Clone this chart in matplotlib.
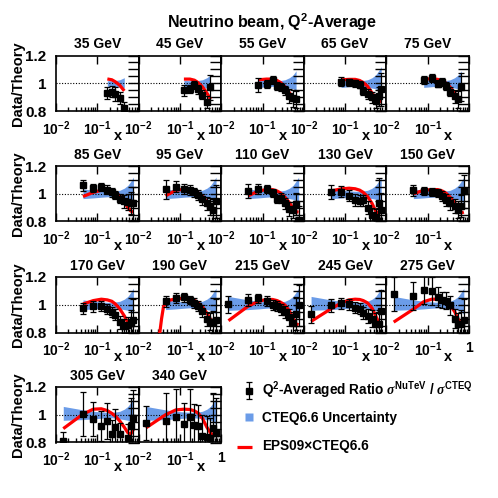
import numpy as np
import matplotlib
matplotlib.use('Agg')
from matplotlib import pyplot as plt
from matplotlib.ticker import FixedLocator, NullFormatter

plt.rcParams['font.family'] = ['Liberation Sans', 'DejaVu Sans']
plt.rcParams['font.weight'] = 'bold'
plt.rcParams['mathtext.fontset'] = 'custom'
plt.rcParams['mathtext.rm'] = 'Liberation Sans:bold'
plt.rcParams['mathtext.bf'] = 'Liberation Sans:bold'
plt.rcParams['mathtext.it'] = 'Liberation Serif:italic'
plt.rcParams['mathtext.default'] = 'bf'

energies = ['35 GeV', '45 GeV', '55 GeV', '65 GeV', '75 GeV',
            '85 GeV', '95 GeV', '110 GeV', '130 GeV', '150 GeV',
            '170 GeV', '190 GeV', '215 GeV', '245 GeV', '275 GeV',
            '305 GeV', '340 GeV']

x_bins = [0.015, 0.045, 0.08, 0.125, 0.175, 0.225, 0.275, 0.35, 0.45, 0.55, 0.65, 0.75]
# CTEQ6.6 uncertainty band (above / below 1) at each x bin
band_up = [0.06, 0.035, 0.025, 0.02, 0.018, 0.018, 0.02, 0.025, 0.04, 0.06, 0.09, 0.12]
band_dn = [0.04, 0.035, 0.03, 0.025, 0.022, 0.022, 0.025, 0.03, 0.035, 0.04, 0.05, 0.07]

# bins with a measured point, per panel
data_bins = [
    [4, 5, 6, 7, 8],
    [3, 4, 5, 6, 7, 8, 9],
    [2, 3, 4, 5, 6, 7, 8, 9, 10],
    [2, 3, 4, 5, 6, 7, 8, 9, 10, 11],
    [2, 3, 4, 5, 6, 7, 8, 9, 10],
    [1, 2, 3, 4, 5, 6, 7, 8, 9, 10, 11],
    [1, 2, 3, 4, 5, 6, 7, 8, 9, 10, 11],
    [1, 2, 3, 4, 5, 6, 7, 8, 9, 10, 11],
    [1, 2, 3, 4, 5, 6, 7, 8, 9, 10, 11],
    [1, 2, 3, 4, 5, 6, 7, 8, 9, 10, 11],
    [1, 2, 3, 4, 5, 6, 7, 8, 9, 10, 11],
    [1, 2, 3, 4, 5, 6, 7, 8, 9, 10, 11],
    [0, 1, 2, 3, 4, 5, 6, 7, 8, 9, 10, 11],
    [0, 1, 2, 3, 4, 5, 6, 7, 8, 9, 10, 11],
    [0, 1, 2, 3, 4, 5, 6, 7, 8, 9, 10, 11],
    [0, 1, 2, 3, 4, 5, 6, 7, 9, 10, 11],
    [0, 1, 2, 3, 4, 5, 6, 7, 8, 9, 10, 11],
]

ratio = [
    [0.93, 0.94, 0.92, 0.895, 0.825],
    [0.949, 0.958, 0.988, 0.955, 0.918, 0.865, 0.971],
    [0.987, 0.995, 1.023, 0.982, 0.971, 0.948, 0.905, 0.892, 0.884],
    [1.012, 1.008, 1.0, 0.99, 0.945, 0.925, 0.9, 0.87, 0.905, 0.955],
    [1.025, 1.04, 0.998, 1.01, 0.978, 0.94, 0.905, 0.885, 0.975],
    [1.062, 1.042, 1.048, 1.03, 1.01, 0.99, 0.965, 0.945, 0.94, 0.935, 0.93],
    [1.032, 1.052, 1.035, 1.028, 1.01, 0.99, 0.96, 0.93, 0.91, 0.885, 0.945],
    [1.022, 1.036, 1.036, 1.003, 0.962, 0.968, 0.932, 0.888, 0.882, 0.926, 0.81],
    [1.01, 1.015, 0.985, 0.955, 0.95, 0.953, 0.9, 0.85, 0.83, 0.935, 0.885],
    [1.024, 1.022, 1.015, 1.005, 0.982, 0.955, 0.93, 0.91, 0.885, 0.912, 1.018],
    [0.975, 0.99, 0.99, 0.97, 0.948, 0.928, 0.873, 0.848, 0.853, 0.865, 0.89],
    [1.025, 1.05, 1.053, 1.035, 1.012, 0.99, 0.955, 0.9, 0.878, 0.873, 0.888],
    [1.004, 1.034, 1.046, 1.026, 0.998, 0.99, 0.966, 0.948, 0.91, 0.865, 0.935, 0.995],
    [0.93, 0.995, 1.012, 1.003, 0.977, 0.97, 0.94, 0.922, 0.9, 0.862, 0.862, 0.955],
    [1.077, 1.062, 1.108, 1.097, 1.055, 1.035, 1.03, 0.995, 0.9, 0.86, 0.86, 0.89],
    [0.813, 1.005, 0.97, 0.918, 0.953, 0.86, 0.91, 0.862, 0.83, 0.922, 0.978],
    [0.94, 0.955, 0.985, 0.932, 0.984, 0.928, 0.922, 0.848, 0.838, 0.83, 0.908, 0.87],
]

ratio_err = [
    [0.04, 0.04, 0.05, 0.045, 0.04],
    [0.04, 0.03, 0.03, 0.035, 0.035, 0.04, 0.09],
    [0.05, 0.03, 0.03, 0.03, 0.03, 0.035, 0.05, 0.06, 0.06],
    [0.03, 0.025, 0.025, 0.025, 0.03, 0.035, 0.04, 0.05, 0.07, 0.12],
    [0.03, 0.03, 0.025, 0.03, 0.03, 0.035, 0.045, 0.06, 0.1],
    [0.04, 0.03, 0.03, 0.03, 0.03, 0.03, 0.035, 0.045, 0.06, 0.08, 0.12],
    [0.07, 0.04, 0.035, 0.035, 0.035, 0.035, 0.04, 0.045, 0.06, 0.08, 0.12],
    [0.05, 0.035, 0.03, 0.03, 0.03, 0.035, 0.04, 0.05, 0.06, 0.08, 0.1],
    [0.05, 0.04, 0.04, 0.04, 0.04, 0.04, 0.045, 0.05, 0.06, 0.18, 0.12],
    [0.04, 0.03, 0.03, 0.03, 0.035, 0.04, 0.045, 0.05, 0.06, 0.08, 0.12],
    [0.04, 0.04, 0.035, 0.035, 0.035, 0.04, 0.045, 0.05, 0.06, 0.1, 0.15],
    [0.04, 0.035, 0.03, 0.03, 0.035, 0.035, 0.04, 0.05, 0.06, 0.08, 0.15],
    [0.06, 0.04, 0.035, 0.035, 0.035, 0.035, 0.04, 0.045, 0.06, 0.08, 0.12, 0.15],
    [0.06, 0.05, 0.04, 0.04, 0.04, 0.04, 0.045, 0.05, 0.06, 0.08, 0.1, 0.15],
    [0.12, 0.1, 0.1, 0.1, 0.07, 0.06, 0.06, 0.07, 0.07, 0.08, 0.1, 0.15],
    [0.065, 0.16, 0.12, 0.11, 0.13, 0.1, 0.13, 0.08, 0.1, 0.2, 0.2],
    [0.12, 0.2, 0.2, 0.15, 0.2, 0.15, 0.15, 0.15, 0.15, 0.15, 0.25, 0.25],
]

# EPS09 x CTEQ6.6 curve, read at the x bins (190 GeV has extra low-x points)
eps_x = [
    x_bins[4:9], x_bins[3:10], x_bins[2:11], x_bins[2:12], x_bins[2:11],
    x_bins[1:12], x_bins[1:12], x_bins[1:12], x_bins[1:12], x_bins[1:12],
    x_bins[1:11],
    [0.032, 0.036, 0.04, 0.045, 0.055] + x_bins[2:12],
    x_bins, x_bins, x_bins, x_bins, x_bins,
]
eps_y = [
    [1.031, 1.025, 1.01, 0.985, 0.945],
    [1.03, 1.03, 1.022, 1.005, 0.975, 0.93, 0.885],
    [1.025, 1.03, 1.03, 1.02, 1.005, 0.975, 0.93, 0.895, 0.875],
    [1.025, 1.028, 1.028, 1.02, 1.005, 0.978, 0.93, 0.885, 0.862, 0.875],
    [1.03, 1.032, 1.028, 1.018, 1.002, 0.972, 0.93, 0.895, 0.88],
    [0.98, 1.01, 1.025, 1.03, 1.022, 1.01, 0.985, 0.94, 0.9, 0.875, 0.868],
    [0.985, 1.025, 1.032, 1.03, 1.022, 1.008, 0.983, 0.945, 0.905, 0.88, 0.872],
    [0.985, 1.02, 1.03, 1.03, 1.02, 1.005, 0.975, 0.935, 0.895, 0.87, 0.868],
    [1.02, 1.035, 1.04, 1.036, 1.026, 1.01, 0.98, 0.93, 0.875, 0.855, 0.91],
    [1.0, 1.025, 1.03, 1.03, 1.02, 1.005, 0.975, 0.935, 0.895, 0.862, 0.868],
    [1.005, 1.03, 1.04, 1.035, 1.025, 1.005, 0.97, 0.92, 0.87, 0.83],
    [0.78, 0.9, 0.985, 1.015, 1.032, 1.043, 1.047, 1.043, 1.032, 1.015, 0.985, 0.94, 0.895, 0.865, 0.86],
    [0.885, 0.99, 1.025, 1.038, 1.038, 1.03, 1.018, 0.998, 0.955, 0.9, 0.862, 0.855],
    [0.88, 0.97, 1.012, 1.035, 1.04, 1.038, 1.03, 1.013, 0.975, 0.92, 0.872, 0.86],
    [0.875, 0.968, 1.022, 1.04, 1.04, 1.032, 1.02, 0.998, 0.95, 0.895, 0.855, 0.845],
    [0.9, 1.005, 1.04, 1.043, 1.03, 1.01, 0.99, 0.955, 0.91, 0.87, 0.862, 0.895],
    [0.905, 1.0, 1.035, 1.04, 1.038, 1.028, 1.012, 0.975, 0.91, 0.87, 0.85, 0.87],
]

W = 498.0
fig = plt.figure(figsize=(4.98, 4.98), dpi=100)

left0 = 56.0
pw = 82.6
ph = 55.5
row_top = [55.5, 166.0, 277.0, 387.0]
band_col = '#6b9ce8'


def px_axes(x, y, w, h):
    return fig.add_axes([x / W, 1 - (y + h) / W, w / W, h / W])


fig.text(272 / W, 1 - 22 / W, 'Neutrino beam, Q$^2$-Average', ha='center', va='center',
         fontsize=11.5, weight='bold')

for i in range(len(energies)):
    row = i // 5
    col = i % 5
    x0 = left0 + col * pw
    y0 = row_top[row]
    ax = px_axes(x0, y0, pw, ph)

    xs = [x_bins[k] for k in data_bins[i]]
    k0 = data_bins[i][0]
    k1 = data_bins[i][-1]
    bx = x_bins[k0:k1 + 1]
    bup = [1 + v for v in band_up[k0:k1 + 1]]
    bdn = [1 - v for v in band_dn[k0:k1 + 1]]
    ax.fill_between(bx, bdn, bup, color=band_col, lw=0, zorder=1)
    ax.axhline(1.0, color='k', ls=(0, (1, 1.5)), lw=0.8, zorder=2)
    ax.plot(eps_x[i], eps_y[i], color='#ff0000', lw=2.3, zorder=3, solid_capstyle='butt')
    ax.errorbar(xs, ratio[i], yerr=ratio_err[i], fmt='s', color='k', ms=3.8,
                elinewidth=0.9, capsize=2, capthick=0.9, zorder=4)

    ax.set_xscale('log')
    ax.set_xlim(0.01, 1)
    ax.set_ylim(0.8, 1.2)
    for s in ax.spines.values():
        s.set_linewidth(1.2)

    last_in_row = (i == 14 or i == 16)
    ax.xaxis.set_major_locator(FixedLocator([0.01, 0.1, 1]))
    ax.xaxis.set_minor_locator(FixedLocator([0.02, 0.03, 0.04, 0.05, 0.06, 0.07, 0.08, 0.09,
                                             0.2, 0.3, 0.4, 0.5, 0.6, 0.7, 0.8, 0.9]))
    ax.xaxis.set_minor_formatter(NullFormatter())
    ax.set_xticklabels([r'10$^{-2}$', r'10$^{-1}$', '1' if last_in_row else ''])
    ax.tick_params(axis='x', which='major', direction='in', length=6, width=1,
                   top=True, bottom=True, labelsize=10, pad=6)
    ax.tick_params(axis='x', which='minor', direction='in', length=3, width=1,
                   top=False, bottom=True)

    ax.yaxis.set_major_locator(FixedLocator([0.8, 1.0, 1.2]))
    ax.yaxis.set_minor_locator(FixedLocator([0.85, 0.9, 0.95, 1.05, 1.1, 1.15]))
    ax.set_yticklabels(['0.8', '1', '1.2'])
    ax.tick_params(axis='y', which='both', direction='in', length=8, width=1,
                   left=False, right=True, labelleft=(col == 0), labelright=False,
                   labelsize=11, pad=7)

    ax.text(0.75, -0.45, 'x', transform=ax.transAxes, ha='center', va='center',
            fontsize=10.5, weight='bold')
    fig.text((x0 + pw / 2) / W, 1 - (y0 - 11) / W, energies[i], ha='center', va='center',
             fontsize=10, weight='bold')

    if col == 0:
        fig.text(18 / W, 1 - (y0 + ph / 2) / W, 'Data/Theory', rotation=90,
                 ha='center', va='center', fontsize=10.5, weight='bold')

# legend, drawn in pixel coordinates
lg = fig.add_axes([0, 0, 1, 1])
lg.set_xlim(0, W)
lg.set_ylim(W, 0)
lg.axis('off')
lg.errorbar([249], [390.5], yerr=[[8.5], [8.5]], fmt='s', color='k', ms=3.8,
            elinewidth=0.9, capsize=2, capthick=0.9)
lg.plot([249], [417], 's', color=band_col, ms=5.5, mec='none')
lg.plot([237, 252], [447, 447], color='#ff0000', lw=2.3, solid_capstyle='butt')
lg.text(262, 390, r'Q$^2$-Averaged Ratio $\mathit{\sigma}^{NuTeV}$ / $\mathit{\sigma}^{CTEQ}$',
        ha='left', va='center', fontsize=9.8, weight='bold')
lg.text(262, 418, 'CTEQ6.6 Uncertainty', ha='left', va='center', fontsize=9.8, weight='bold')
lg.text(262, 446, 'EPS09\u00d7CTEQ6.6', ha='left', va='center', fontsize=9.8, weight='bold')

fig.savefig('out.png', dpi=100)
